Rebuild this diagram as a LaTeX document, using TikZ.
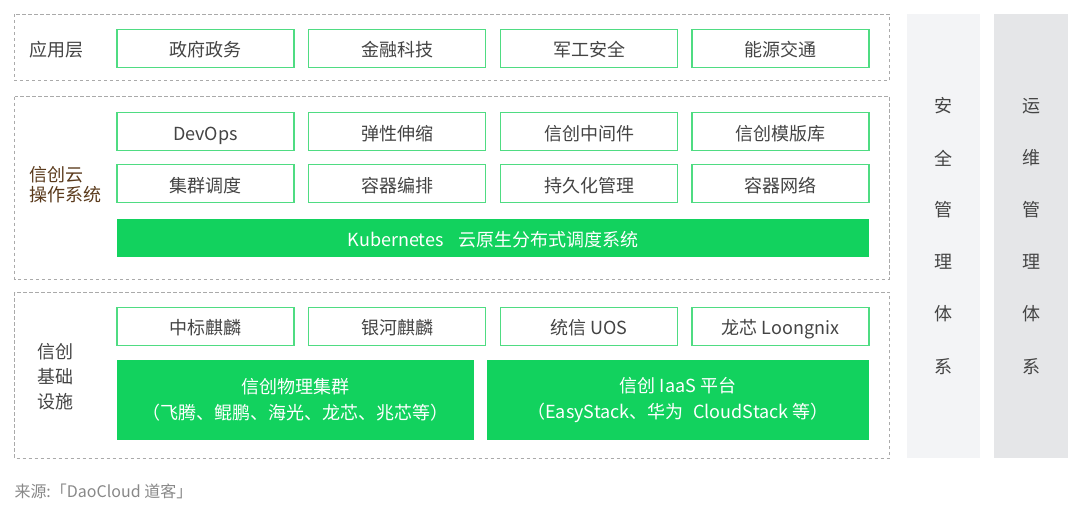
\documentclass[tikz,border=0pt]{standalone}
\usepackage{fontspec}
\setmainfont{Noto Sans CJK SC}
\definecolor{grn}{HTML}{12D25E}
\definecolor{grnline}{HTML}{4FDC82}
\definecolor{txt}{HTML}{444444}
\definecolor{brown}{HTML}{5A3A1C}
\definecolor{dash}{HTML}{AAAAAA}
\definecolor{colA}{HTML}{F3F4F6}
\definecolor{colB}{HTML}{E5E6E8}
\definecolor{foot}{HTML}{888888}
\begin{document}
\begin{tikzpicture}[x=1pt,y=-1pt,
  every node/.style={inner sep=0pt, outer sep=0pt},
  wbox/.style={draw=grnline, line width=1.3pt, fill=white, text=txt, minimum width=177pt, minimum height=38pt, font=\fontsize{18}{21}\selectfont, text height=17pt, text depth=0pt},
  gbox/.style={fill=grn, text=white, minimum height=38pt, font=\fontsize{18}{21}\selectfont, align=center},
  layer/.style={draw=dash, line width=0.9pt, dash pattern=on 3.5pt off 2.5pt},
  lbl/.style={text=txt, font=\fontsize{18}{25}\selectfont, align=left, anchor=west},
  sidecol/.style={minimum width=73.5pt, minimum height=444pt, text=txt},
  sidech/.style={text=txt, font=\fontsize{18}{21}\selectfont}
]
\useasboundingbox (0,0) rectangle (1080,513);
% layers
\draw[layer] (14.5,14) rectangle (889.5,80.7);
\draw[layer] (14.5,96.7) rectangle (889.5,279.3);
\draw[layer] (14.5,292.3) rectangle (889.5,458.3);
% side columns
\node[sidecol, fill=colA] (sec) at (943.3,236) {};
\node[sidecol, fill=colB] (ops) at (1031.2,236) {};
\foreach \c/\yy [count=\i] in {安/106,全/158,管/210,理/262,体/314,系/367}
  \node[sidech] (s\i) at (943.3,\yy) {\c};
\foreach \c/\yy [count=\i] in {运/106,维/158,管/210,理/262,体/314,系/367}
  \node[sidech] (o\i) at (1031.2,\yy) {\c};
% labels
\node[lbl] (L1) at (29,50) {应用层};
\node[lbl, text=brown, font=\fontsize{18}{20}\selectfont] (L2) at (29,185) {信创云\\操作系统};
\node[lbl] (L3) at (37.5,376.5) {信创\\基础\\设施};
% row 1
\node[wbox] (a1) at (205.5,48.3) {政府政务};
\node[wbox] (a2) at (397,48.3) {金融科技};
\node[wbox] (a3) at (589,48.3) {军工安全};
\node[wbox] (a4) at (780.5,48.3) {能源交通};
% row 2
\node[wbox] (b1) at (205.5,131.7) {DevOps};
\node[wbox] (b2) at (397,131.7) {弹性伸缩};
\node[wbox] (b3) at (589,131.7) {信创中间件};
\node[wbox] (b4) at (780.5,131.7) {信创模版库};
% row 3
\node[wbox] (c1) at (205.5,183.7) {集群调度};
\node[wbox] (c2) at (397,183.7) {容器编排};
\node[wbox] (c3) at (589,183.7) {持久化管理};
\node[wbox] (c4) at (780.5,183.7) {容器网络};
% k8s bar
\node[gbox, minimum width=752pt, text height=17pt, text depth=0pt] (k8s) at (493,238.3) {Kubernetes\hspace{0.8em}云原生分布式调度系统};
% row 4
\node[wbox] (d1) at (205.5,326.3) {中标麒麟};
\node[wbox] (d2) at (397,326.3) {银河麒麟};
\node[wbox] (d3) at (589,326.3) {统信 UOS};
\node[wbox] (d4) at (780.5,326.3) {龙芯 Loongnix};
% big boxes
\node[gbox, minimum width=356.5pt, minimum height=80pt, font=\fontsize{18}{26}\selectfont] (e1) at (295.25,400) {信创物理集群\\（飞腾、鲲鹏、海光、龙芯、兆芯等）};
\node[gbox, minimum width=382pt, minimum height=80pt, font=\fontsize{18}{26}\selectfont] (e2) at (678,400) {信创 IaaS 平台\\（EasyStack、华为\hspace{0.3em} CloudStack 等）};
% footer
\node[anchor=west, text=foot, font=\fontsize{16}{18}\selectfont] (src) at (14.5,491) {来源:「DaoCloud 道客」};
\end{tikzpicture}
\end{document}
